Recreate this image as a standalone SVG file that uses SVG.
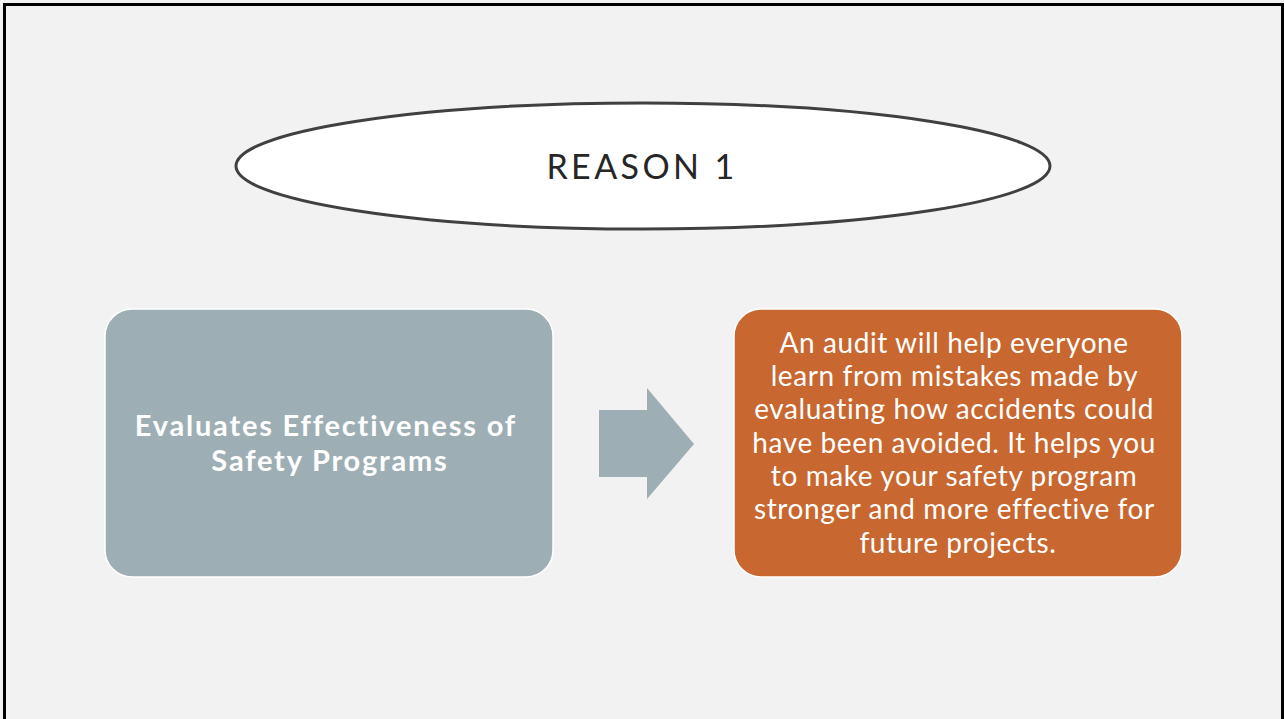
<svg xmlns="http://www.w3.org/2000/svg" width="1284" height="719" viewBox="0 0 1284 719">
  <style>
    .title { font-family: Lato, "Open Sans", "Liberation Sans", sans-serif; font-size: 34px; fill: #262626; letter-spacing: 3.4px; }
    .lead { font-family: Lato, "Open Sans", "Liberation Sans", sans-serif; font-size: 29px; font-weight: bold; fill: #ffffff; letter-spacing: 1.8px; }
    .body { font-family: Lato, "Open Sans", "Liberation Sans", sans-serif; font-size: 28px; fill: #ffffff; letter-spacing: 0.6px; }
    .card { stroke: #ffffff; stroke-width: 1.5; }
  </style>

  <!-- slide background and frame -->
  <rect x="0" y="0" width="1284" height="719" fill="#f2f2f2"/>
  <rect x="4.5" y="4.5" width="1278" height="730" fill="none" stroke="#000000" stroke-width="3"/>

  <!-- title ellipse -->
  <g id="title">
    <ellipse cx="643" cy="166" rx="407" ry="63" fill="#ffffff" stroke="#404040" stroke-width="3"/>
    <text class="title" x="642" y="179" text-anchor="middle">REASON 1</text>
  </g>

  <!-- left card -->
  <g id="cause">
    <rect class="card" x="105" y="309" width="448" height="268" rx="27" ry="27" fill="#9dafb4"/>
    <text class="lead" text-anchor="middle">
      <tspan x="330" y="436">Evaluates Effectiveness of</tspan>
      <tspan x="330" y="471">Safety Programs</tspan>
    </text>
  </g>

  <!-- block arrow between the cards -->
  <g id="connectors">
    <polygon points="599,410 647,410 647,388 694,444 647,499 647,477 599,477" fill="#9dafb4"/>
  </g>

  <!-- right card -->
  <g id="effect">
    <rect class="card" x="734" y="309" width="448" height="268" rx="27" ry="27" fill="#c8672f"/>
    <text class="body" text-anchor="middle">
      <tspan x="958" y="353">An audit will help everyone</tspan>
      <tspan x="958" y="386">learn from mistakes made by</tspan>
      <tspan x="958" y="419">evaluating how accidents could</tspan>
      <tspan x="958" y="453">have been avoided. It helps you</tspan>
      <tspan x="958" y="486">to make your safety program</tspan>
      <tspan x="958" y="519">stronger and more effective for</tspan>
      <tspan x="958" y="553">future projects.</tspan>
    </text>
  </g>
</svg>
